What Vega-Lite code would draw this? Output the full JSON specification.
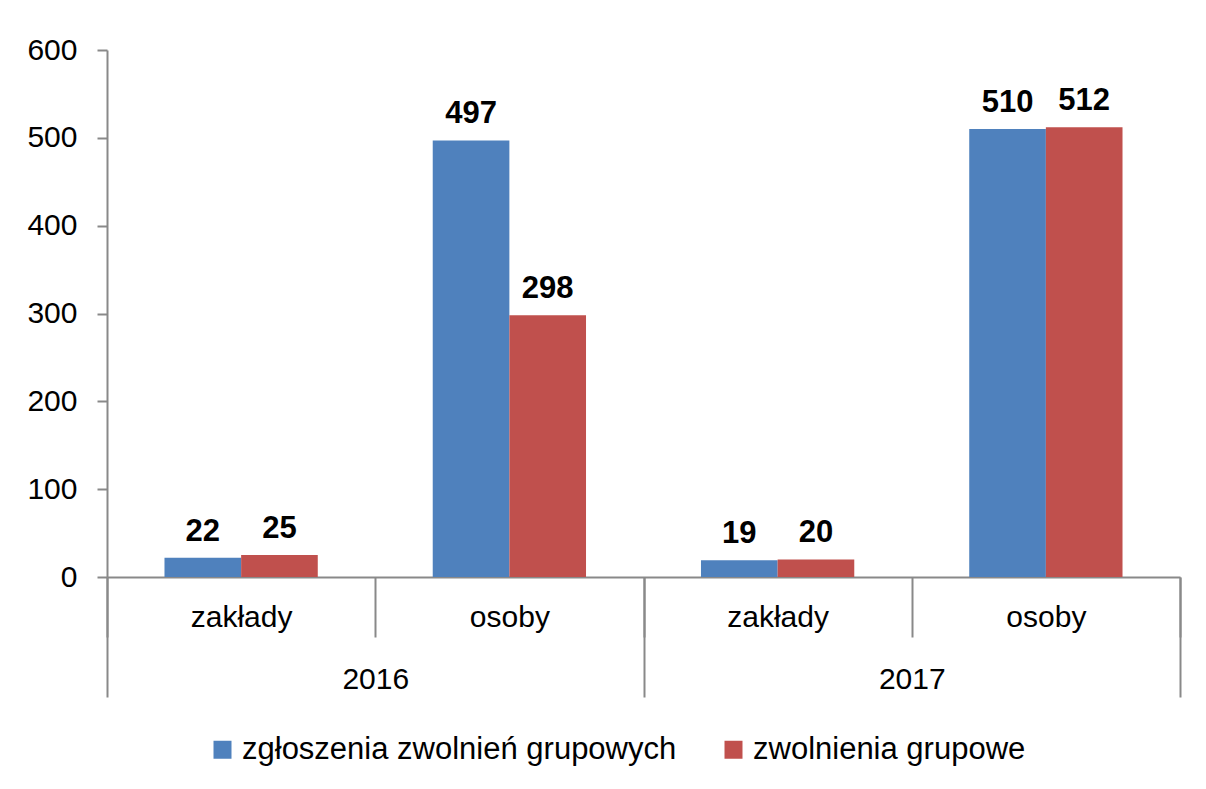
{
  "$schema": "https://vega.github.io/schema/vega-lite/v6.json",
  "autosize": "none",
  "width": 1073,
  "height": 527,
  "padding": {"left": 107, "top": 50, "right": 26, "bottom": 212},
  "background": "white",
  "config": {
    "view": {"stroke": null},
    "font": "Liberation Sans"
  },
  "data": {
    "values": [
      {"year": "2016", "grupa": "2016 zakłady", "seria": "zgłoszenia zwolnień grupowych", "value": 22},
      {"year": "2016", "grupa": "2016 zakłady", "seria": "zwolnienia grupowe", "value": 25},
      {"year": "2016", "grupa": "2016 osoby", "seria": "zgłoszenia zwolnień grupowych", "value": 497},
      {"year": "2016", "grupa": "2016 osoby", "seria": "zwolnienia grupowe", "value": 298},
      {"year": "2017", "grupa": "2017 zakłady", "seria": "zgłoszenia zwolnień grupowych", "value": 19},
      {"year": "2017", "grupa": "2017 zakłady", "seria": "zwolnienia grupowe", "value": 20},
      {"year": "2017", "grupa": "2017 osoby", "seria": "zgłoszenia zwolnień grupowych", "value": 510},
      {"year": "2017", "grupa": "2017 osoby", "seria": "zwolnienia grupowe", "value": 512}
    ]
  },
  "layer": [
    {
      "encoding": {
        "x": {
          "field": "grupa", "type": "nominal", "sort": null,
          "scale": {"paddingInner": 0, "paddingOuter": 0},
          "axis": {
            "title": null, "labelAngle": 0,
            "labelExpr": "split(datum.label, ' ')[1]",
            "labelFontSize": 30, "labelColor": "black",
            "domainColor": "#898989", "domainWidth": 2,
            "tickColor": "#898989", "tickWidth": 2, "tickSize": 60,
            "tickBand": "extent", "labelPadding": -35
          }
        },
        "xOffset": {
          "field": "seria", "type": "nominal",
          "scale": {"paddingInner": 0, "paddingOuter": 0.75}
        },
        "y": {
          "field": "value", "type": "quantitative",
          "scale": {"domain": [0, 600]},
          "axis": {
            "title": null, "values": [0, 100, 200, 300, 400, 500, 600],
            "grid": false, "labelFontSize": 30, "labelColor": "black",
            "domainColor": "#898989", "domainWidth": 2,
            "tickColor": "#898989", "tickWidth": 2, "tickSize": 10,
            "labelPadding": 20
          }
        }
      },
      "layer": [
        {
          "mark": {"type": "bar"},
          "encoding": {
            "color": {
              "field": "seria", "type": "nominal",
              "scale": {
                "domain": ["zgłoszenia zwolnień grupowych", "zwolnienia grupowe"],
                "range": ["#4F81BD", "#C0504D"]
              },
              "legend": {
                "title": null, "orient": "none", "direction": "horizontal",
                "legendX": 100, "legendY": 684,
                "symbolType": "square", "symbolSize": 324, "symbolStrokeWidth": 0,
                "labelFontSize": 31, "labelColor": "black", "labelOffset": 4,
                "labelLimit": 0, "columnPadding": 41
              }
            }
          }
        },
        {
          "mark": {"type": "text", "baseline": "bottom", "dy": -10, "fontSize": 31, "fontWeight": "bold", "color": "black"},
          "encoding": {
            "text": {"field": "value", "type": "quantitative"}
          }
        }
      ]
    },
    {
      "mark": {"type": "bar", "opacity": 0},
      "encoding": {
        "x": {
          "field": "year", "type": "nominal", "sort": null,
          "scale": {"paddingInner": 0, "paddingOuter": 0},
          "axis": {
            "orient": "bottom", "title": null, "labelAngle": 0,
            "labelFontSize": 30, "labelColor": "black",
            "domain": false,
            "tickColor": "#898989", "tickWidth": 2, "tickSize": 120,
            "tickBand": "extent", "labelPadding": -33
          }
        },
        "y": {"field": "value", "type": "quantitative"}
      }
    }
  ],
  "resolve": {"scale": {"x": "independent"}, "axis": {"x": "independent"}}
}
